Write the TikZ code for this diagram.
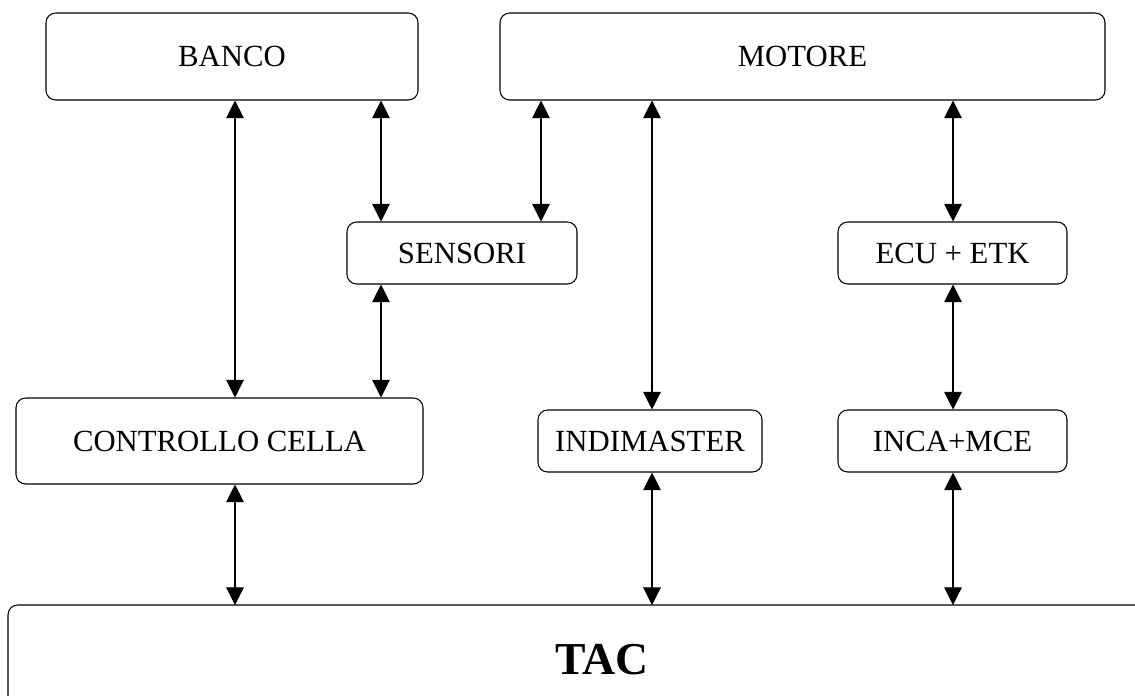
\documentclass[tikz,border=0pt]{standalone}
\usepackage{fontspec}
\setmainfont{Liberation Serif}
\usetikzlibrary{arrows.meta}

\begin{document}
\begin{tikzpicture}[
    >={Triangle[length=10pt,width=10pt]},
    line cap=round,
    line join=round,
    box/.style={draw, line width=0.6pt, rounded corners=5.5pt, inner sep=0pt,
        font=\fontsize{17.5}{20}\selectfont},
    link/.style={<->, line width=0.6pt, draw=black}
]

% Frame
\useasboundingbox (0,0) rectangle (22.7,-13.9);
\clip (0,0) rectangle (22.7,-13.9);

% Columns of the links
\coordinate (cA) at (4.70,0);
\coordinate (cB) at (7.62,0);
\coordinate (cC) at (10.82,0);
\coordinate (cD) at (13.04,0);
\coordinate (cE) at (19.06,0);

% Top row
\node[box, minimum width=7.44cm, minimum height=1.74cm] (banco) at (4.64,-1.13) {BANCO};
\node[box, minimum width=12.1cm, minimum height=1.74cm] (motore) at (16.05,-1.13) {MOTORE};

% Middle row
\node[box, minimum width=4.6cm, minimum height=1.24cm] (sensori) at (9.24,-5.06) {SENSORI};
\node[box, minimum width=4.58cm, minimum height=1.24cm] (ecu) at (19.05,-5.06) {ECU + ETK};

% Lower row
\node[box, minimum width=8.14cm, minimum height=1.72cm] (cella) at (4.39,-8.82) {CONTROLLO CELLA};
\node[box, minimum width=4.48cm, minimum height=1.24cm] (indi) at (13.0,-8.82) {INDIMASTER};
\node[box, minimum width=4.58cm, minimum height=1.24cm] (inca) at (19.05,-8.82) {INCA+MCE};

% TAC (runs past the frame)
\draw[line width=0.6pt, rounded corners=5.5pt] (0.16,-15) |- (23.5,-12.1);
\coordinate (tac) at (0,-12.1);
\node[font=\fontsize{26}{30}\selectfont\bfseries] (taclabel) at (12.04,-13.2) {TAC};

% Links
\draw[link] (cA |- banco.south) -- (cA |- cella.north);
\draw[link] (cB |- banco.south) -- (cB |- sensori.north);
\draw[link] (cC |- motore.south) -- (cC |- sensori.north);
\draw[link] (cB |- sensori.south) -- (cB |- cella.north);
\draw[link] (cD |- motore.south) -- (cD |- indi.north);
\draw[link] (cE |- motore.south) -- (cE |- ecu.north);
\draw[link] (cE |- ecu.south) -- (cE |- inca.north);

% Links to TAC
\draw[link] (cA |- cella.south) -- (cA |- tac);
\draw[link] (cD |- indi.south) -- (cD |- tac);
\draw[link] (cE |- inca.south) -- (cE |- tac);

\end{tikzpicture}
\end{document}
